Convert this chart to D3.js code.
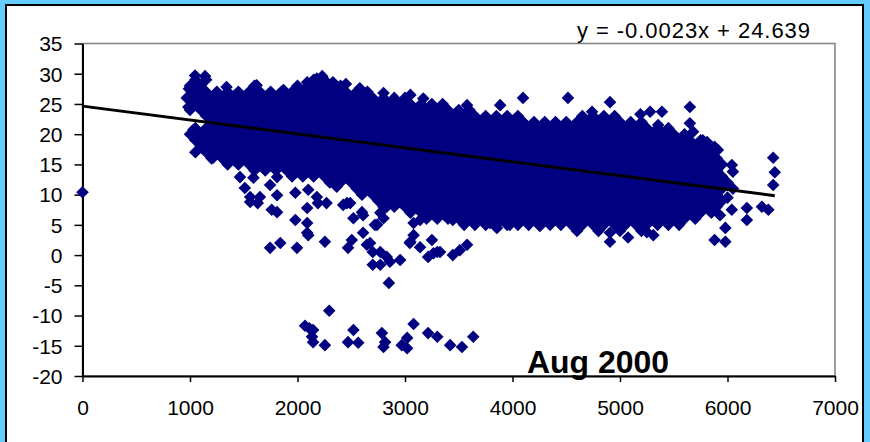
<!DOCTYPE html>
<html>
<head>
<meta charset="utf-8">
<script src="https://cdn.jsdelivr.net/npm/d3@7"></script>
<style>
    body { margin: 0; padding: 0; background: #66ccff; }
    svg { display: block; font-family: 'Liberation Sans', Arial, sans-serif; }
</style>
</head>
<body>
<svg id="chart"></svg>
<script>
// tick labels
var xTicks = [0, 1000, 2000, 3000, 4000, 5000, 6000, 7000];
var yTicks = [-20, -15, -10, -5, 0, 5, 10, 15, 20, 25, 30, 35];

// dense core of the scatter, one column of y values per x
var coreColumns = [
    [1000, [20, 24, 26, 28]],
    [1050, [17, 19, 21, 25, 27, 29]],
    [1100, [18, 20, 24, 26, 28]],
    [1150, [17, 19, 21, 23, 25, 27, 29]],
    [1200, [16, 18, 20, 22, 24, 26]],
    [1250, [17, 19, 21, 23, 25, 27]],
    [1300, [16, 18, 20, 22, 24, 26]],
    [1350, [15, 17, 19, 21, 23, 25, 27]],
    [1400, [16, 18, 20, 22, 24, 26]],
    [1450, [15, 17, 19, 21, 23, 25, 27]],
    [1500, [16, 18, 20, 22, 24, 26]],
    [1550, [15, 17, 19, 21, 23, 25, 27]],
    [1600, [14, 16, 18, 20, 22, 24, 26, 28]],
    [1650, [15, 17, 19, 21, 23, 25, 27]],
    [1700, [14, 16, 18, 20, 22, 24, 26]],
    [1750, [15, 17, 19, 21, 23, 25, 27]],
    [1800, [14, 16, 18, 20, 22, 24, 26]],
    [1850, [15, 17, 19, 21, 23, 25, 27]],
    [1900, [14, 16, 18, 20, 22, 24, 26]],
    [1950, [13, 15, 17, 19, 21, 23, 25, 27]],
    [2000, [14, 16, 18, 20, 22, 24, 26, 28]],
    [2050, [13, 15, 17, 19, 21, 23, 25, 27]],
    [2100, [14, 16, 18, 20, 22, 24, 26, 28]],
    [2150, [13, 15, 17, 19, 21, 23, 25, 27, 29]],
    [2200, [14, 16, 18, 20, 22, 24, 26, 28]],
    [2250, [13, 15, 17, 19, 21, 23, 25, 27, 29]],
    [2300, [12, 14, 16, 18, 20, 22, 24, 26, 28]],
    [2350, [13, 15, 17, 19, 21, 23, 25, 27]],
    [2400, [12, 14, 16, 18, 20, 22, 24, 26, 28]],
    [2450, [13, 15, 17, 19, 21, 23, 25, 27]],
    [2500, [12, 14, 16, 18, 20, 22, 24, 26]],
    [2550, [11, 13, 15, 17, 19, 21, 23, 25, 27]],
    [2600, [10, 12, 14, 16, 18, 20, 22, 24, 26]],
    [2650, [11, 13, 15, 17, 19, 21, 23, 25, 27]],
    [2700, [10, 12, 14, 16, 18, 20, 22, 24, 26]],
    [2750, [9, 11, 13, 15, 17, 19, 21, 23, 25]],
    [2800, [8, 10, 12, 14, 16, 18, 20, 22, 24, 26]],
    [2850, [9, 11, 13, 15, 17, 19, 21, 23, 25]],
    [2900, [8, 10, 12, 14, 16, 18, 20, 22, 24, 26]],
    [2950, [9, 11, 13, 15, 17, 19, 21, 23, 25]],
    [3000, [8, 10, 12, 14, 16, 18, 20, 22, 24, 26]],
    [3050, [7, 9, 11, 13, 15, 17, 19, 21, 23, 25]],
    [3100, [8, 10, 12, 14, 16, 18, 20, 22, 24]],
    [3150, [7, 9, 11, 13, 15, 17, 19, 21, 23, 25]],
    [3200, [6, 8, 10, 12, 14, 16, 18, 20, 22, 24]],
    [3250, [7, 9, 11, 13, 15, 17, 19, 21, 23, 25]],
    [3300, [6, 8, 10, 12, 14, 16, 18, 20, 22, 24]],
    [3350, [7, 9, 11, 13, 15, 17, 19, 21, 23, 25]],
    [3400, [6, 8, 10, 12, 14, 16, 18, 20, 22, 24]],
    [3450, [7, 9, 11, 13, 15, 17, 19, 21, 23]],
    [3500, [6, 8, 10, 12, 14, 16, 18, 20, 22, 24]],
    [3550, [5, 7, 9, 11, 13, 15, 17, 19, 21, 23]],
    [3600, [6, 8, 10, 12, 14, 16, 18, 20, 22, 24]],
    [3650, [5, 7, 9, 11, 13, 15, 17, 19, 21, 23]],
    [3700, [6, 8, 10, 12, 14, 16, 18, 20, 22]],
    [3750, [5, 7, 9, 11, 13, 15, 17, 19, 21, 23]],
    [3800, [6, 8, 10, 12, 14, 16, 18, 20, 22]],
    [3850, [5, 7, 9, 11, 13, 15, 17, 19, 21, 23]],
    [3900, [6, 8, 10, 12, 14, 16, 18, 20, 22]],
    [3950, [5, 7, 9, 11, 13, 15, 17, 19, 21, 23]],
    [4000, [6, 8, 10, 12, 14, 16, 18, 20, 22]],
    [4050, [5, 7, 9, 11, 13, 15, 17, 19, 21, 23]],
    [4100, [6, 8, 10, 12, 14, 16, 18, 20, 22]],
    [4150, [5, 7, 9, 11, 13, 15, 17, 19, 21]],
    [4200, [6, 8, 10, 12, 14, 16, 18, 20, 22]],
    [4250, [5, 7, 9, 11, 13, 15, 17, 19, 21]],
    [4300, [6, 8, 10, 12, 14, 16, 18, 20, 22]],
    [4350, [5, 7, 9, 11, 13, 15, 17, 19, 21]],
    [4400, [6, 8, 10, 12, 14, 16, 18, 20, 22]],
    [4450, [5, 7, 9, 11, 13, 15, 17, 19, 21]],
    [4500, [6, 8, 10, 12, 14, 16, 18, 20, 22]],
    [4550, [5, 7, 9, 11, 13, 15, 17, 19, 21]],
    [4600, [4, 6, 8, 10, 12, 14, 16, 18, 20, 22]],
    [4650, [5, 7, 9, 11, 13, 15, 17, 19, 21, 23]],
    [4700, [6, 8, 10, 12, 14, 16, 18, 20, 22]],
    [4750, [5, 7, 9, 11, 13, 15, 17, 19, 21, 23]],
    [4800, [4, 6, 8, 10, 12, 14, 16, 18, 20, 22]],
    [4850, [5, 7, 9, 11, 13, 15, 17, 19, 21, 23]],
    [4900, [6, 8, 10, 12, 14, 16, 18, 20, 22]],
    [4950, [5, 7, 9, 11, 13, 15, 17, 19, 21, 23]],
    [5000, [4, 6, 8, 10, 12, 14, 16, 18, 20, 22]],
    [5050, [5, 7, 9, 11, 13, 15, 17, 19, 21]],
    [5100, [6, 8, 10, 12, 14, 16, 18, 20, 22]],
    [5150, [5, 7, 9, 11, 13, 15, 17, 19, 21]],
    [5200, [4, 6, 8, 10, 12, 14, 16, 18, 20, 22]],
    [5250, [5, 7, 9, 11, 13, 15, 17, 19, 21]],
    [5300, [6, 8, 10, 12, 14, 16, 18, 20]],
    [5350, [5, 7, 9, 11, 13, 15, 17, 19, 21]],
    [5400, [6, 8, 10, 12, 14, 16, 18, 20]],
    [5450, [5, 7, 9, 11, 13, 15, 17, 19, 21]],
    [5500, [6, 8, 10, 12, 14, 16, 18, 20]],
    [5550, [5, 7, 9, 11, 13, 15, 17, 19]],
    [5600, [6, 8, 10, 12, 14, 16, 18, 20]],
    [5650, [7, 9, 11, 13, 15, 17, 19]],
    [5700, [6, 8, 10, 12, 14, 16, 18]],
    [5750, [7, 9, 11, 13, 15, 17, 19]],
    [5800, [8, 10, 12, 14, 16, 18]],
    [5850, [7, 9, 11, 13, 15, 17]],
    [5900, [8, 10, 12, 14, 16]],
    [5950, [9, 11, 13, 15]]
];

// loose points round the core and the outliers
var edgePoints = [
    [0, 10.4],
    [970, 26], [985, 24.5], [990, 27.5], [1030, 20.7], [1040, 19.6], [1075, 19], [1047, 29.7], [1140, 29.6],
    [1215, 16.1], [1340, 27.8], [1620, 28.1], [1870, 27.3], [2090, 28.6], [2180, 29.2], [2230, 29.6],
    [2330, 28.6], [2450, 28.3], [2580, 27.6], [2800, 26.8], [3050, 26.5], [3170, 25.9], [3577, 24.8],
    [3885, 24.8], [4098, 26], [4516, 26], [4907, 25.3], [4740, 23.7], [5190, 23.3], [5280, 23.7],
    [5390, 23.7], [5650, 24.5], [5650, 21.8], [5355, 21.5], [5680, 20.4], [5770, 19], [5810, 18.7],
    [5880, 17.9], [5910, 17.4], [6040, 14.9], [6050, 13.8], [6425, 16.1], [6440, 13.7], [6425, 11.6],
    [6180, 7.8], [6180, 5.8], [6320, 8], [6380, 7.5], [6040, 7.5], [5980, 4.5], [5980, 2.2], [5880, 2.5],
    [5930, 6.6], [6000, 9.5], [6050, 11], [6000, 12], [4907, 3.7], [4907, 2.2], [5075, 2.9], [5250, 3.8],
    [5310, 3.3], [4600, 4.7], [4255, 4.8], [3975, 5], [3855, 4.5], [3725, 6.3], [3790, 5.3],
    [3445, 0], [3510, 0.8], [3577, 1.7], [3326, 0.5], [3250, 2.5], [3265, 0.3], [3215, -0.3], [3300, 0.5],
    [3045, 2], [3050, 2.2], [3140, 1.3], [3080, 3.3], [3080, 5.3], [3140, 5.8], [3445, 5.8], [3540, 6.1],
    [2955, -0.8], [2850, -4.6], [2830, -0.3], [2860, -1.1], [2700, -1.6], [2770, -1.6], [2645, 1.7],
    [2700, 0.5], [2770, 0.5], [2505, 2.5], [2470, 1.2], [2610, 3.7], [2720, 5], [2800, 6.1], [2520, 6.1],
    [2610, 6.6], [2425, 8.3], [2490, 8.6], [2255, 2.2], [1995, 1.2], [1745, 1.2], [1840, 2], [2090, 3.7],
    [2090, 5.3], [1980, 5.8], [1810, 7.1], [1760, 7.5], [2090, 7.8], [2190, 8.6], [2270, 8.6], [1560, 8.8],
    [1630, 8.6], [1465, 12.9], [1590, 12.8], [1510, 11.1], [1560, 9.6], [1650, 9.6], [1745, 11.6],
    [1810, 12.9], [1810, 9.9], [1980, 10.3], [2100, 10.8], [2180, 9.6], [2365, 11.3], [2460, 8.6],
    [2600, 7.1], [2770, 7], [2830, 8], [2740, 5], [2675, 2], [2100, 3.3],
    [2295, -9.2], [2070, -11.7], [2110, -12.1], [2145, -12.4], [2135, -13.5], [2145, -14.4], [2255, -14.9],
    [2520, -12.4], [2470, -14.4], [2565, -14.5], [2785, -12.9], [2815, -14.4], [2800, -15.2], [3020, -13.7],
    [2970, -14.9], [3020, -15.4], [3080, -11.4], [3215, -12.9], [3300, -13.5], [3420, -14.9], [3530, -15.2],
    [3635, -13.5]
];

// trend line as printed on the chart
var trendSlope = -0.0023;
var trendIntercept = 24.639;
var trendRange = [0, 6440];
var equationLabel = 'y = -0.0023x + 24.639';
var titleLabel = 'Aug 2000';

var width = 870, height = 442;
var plot = { left: 82.5, right: 835, top: 43.5, bottom: 376 };

var svg = d3.select('#chart')
    .attr('width', width)
    .attr('height', height);

svg.append('rect')
    .attr('width', width)
    .attr('height', height)
    .style('fill', '#66ccff');

svg.append('rect')
    .attr('x', 6)
    .attr('y', 5)
    .attr('width', 857)
    .attr('height', 460)
    .style('fill', 'white')
    .style('stroke', 'black')
    .style('stroke-width', 2);

var x = d3.scaleLinear().domain([0, 7000]).range([plot.left, plot.right]);
var y = d3.scaleLinear().domain([-20, 35]).range([plot.bottom, plot.top]);

// plain numbers, ascii minus, no thousands separator
var plainNumber = function(d) { return String(d); };

// plot area frame (grey top and right)
svg.append('rect')
    .attr('x', plot.left)
    .attr('y', plot.top)
    .attr('width', plot.right - plot.left)
    .attr('height', plot.bottom - plot.top)
    .style('fill', 'none')
    .style('stroke', '#808080')
    .style('stroke-width', 1.5);

var yAxis = svg.append('g')
    .attr('transform', 'translate(' + plot.left + ',0)')
    .call(d3.axisLeft(y).tickValues(yTicks).tickFormat(plainNumber)
        .tickSizeInner(8).tickSizeOuter(0).tickPadding(12));

var xAxis = svg.append('g')
    .attr('transform', 'translate(0,' + plot.bottom + ')')
    .call(d3.axisBottom(x).tickValues(xTicks).tickFormat(plainNumber)
        .tickSizeInner(6).tickSizeOuter(0).tickPadding(18));

[yAxis, xAxis].forEach(function(g) {
    g.select('.domain').style('stroke', 'black').style('stroke-width', 2);
    g.selectAll('.tick line').style('stroke', 'black').style('stroke-width', 1.5);
    g.selectAll('.tick text')
        .style('font-family', "'Liberation Sans', Arial, sans-serif")
        .style('font-size', '21px')
        .style('fill', 'black');
});
yAxis.selectAll('.tick text').attr('dy', '0.35em');

// points
var points = [];
coreColumns.forEach(function(col) {
    col[1].forEach(function(v) { points.push([col[0], v]); });
});
edgePoints.forEach(function(p) { points.push(p); });

var diamond = 'M0,-6.3L6.3,0L0,6.3L-6.3,0Z';
svg.append('g').selectAll('path')
    .data(points)
    .enter().append('path')
    .attr('d', diamond)
    .attr('transform', function(d) { return 'translate(' + x(d[0]) + ',' + y(d[1]) + ')'; })
    .style('fill', '#000080');

// linear trend line
svg.append('line')
    .attr('x1', x(trendRange[0]))
    .attr('y1', y(trendSlope * trendRange[0] + trendIntercept))
    .attr('x2', x(trendRange[1]))
    .attr('y2', y(trendSlope * trendRange[1] + trendIntercept))
    .style('stroke', 'black')
    .style('stroke-width', 3);

svg.append('text')
    .attr('x', 577)
    .attr('y', 37.5)
    .attr('textLength', 233)
    .attr('lengthAdjust', 'spacing')
    .style('font-size', '22px')
    .style('fill', 'black')
    .text(equationLabel);

svg.append('text')
    .attr('x', 527)
    .attr('y', 373)
    .attr('textLength', 142)
    .attr('lengthAdjust', 'spacingAndGlyphs')
    .style('font-size', '31px')
    .style('font-weight', 'bold')
    .style('fill', 'black')
    .text(titleLabel);
</script>
</body>
</html>
